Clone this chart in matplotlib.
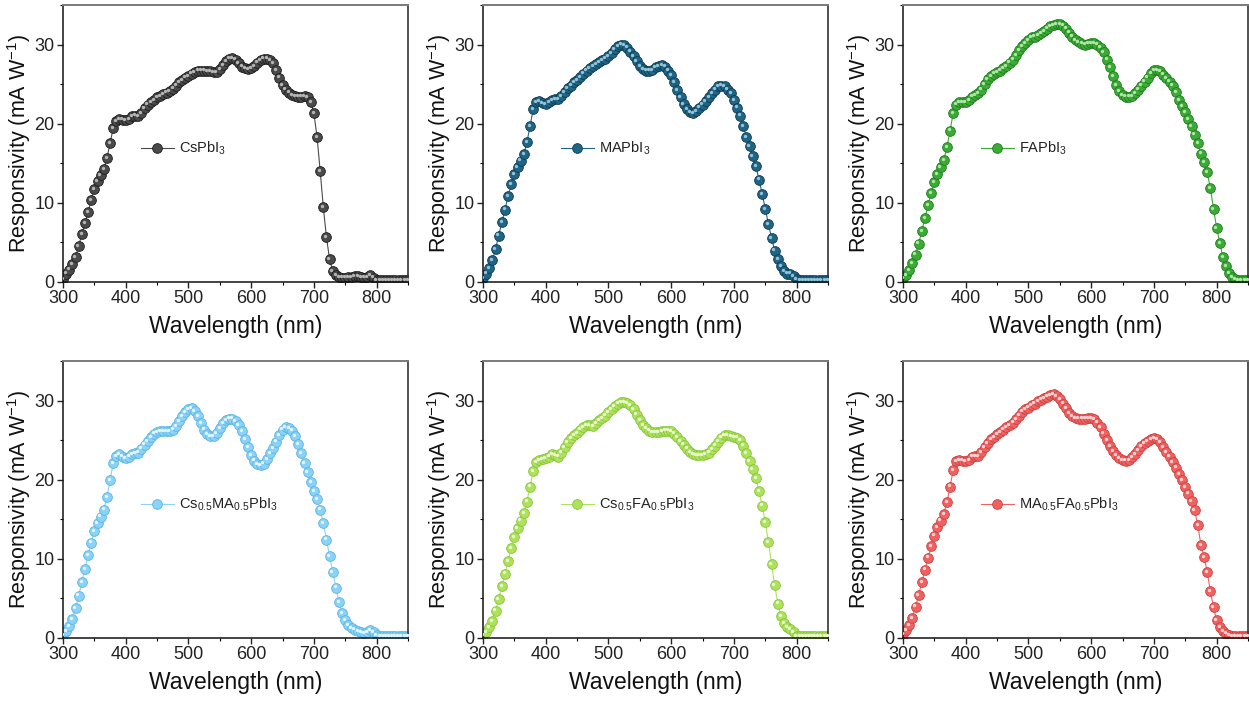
import matplotlib
matplotlib.use("Agg")
import matplotlib.pyplot as plt
import numpy as np
from matplotlib.ticker import MultipleLocator
from matplotlib.transforms import offset_copy

plt.rcParams["font.family"] = ["Liberation Sans", "DejaVu Sans"]
plt.rcParams["mathtext.fontset"] = "custom"
plt.rcParams["mathtext.rm"] = "Liberation Sans"
plt.rcParams["mathtext.default"] = "regular"

# wavelength grid, 5 nm steps from 300 to 850 nm
wavelength = np.arange(300, 851, 5)

cspbi3 = [0.3, 1.0, 1.5, 2.2, 3.1, 4.5, 6.0, 7.4, 8.8, 10.3,
          11.7, 12.7, 13.5, 14.2, 15.6, 17.5, 19.4, 20.3, 20.6, 20.5,
          20.4, 20.6, 20.9, 21.0, 20.9, 21.3, 21.9, 22.4, 22.7, 23.0,
          23.3, 23.5, 23.7, 23.9, 24.1, 24.4, 24.8, 25.2, 25.5, 25.8,
          26.0, 26.3, 26.5, 26.7, 26.7, 26.7, 26.6, 26.6, 26.5, 26.5,
          26.9, 27.4, 27.9, 28.2, 28.3, 28.1, 27.6, 27.2, 27.0, 26.9,
          27.0, 27.3, 27.7, 28.0, 28.2, 28.2, 28.0, 27.6, 26.8, 25.8,
          24.9, 24.3, 23.9, 23.6, 23.5, 23.4, 23.4, 23.5, 23.3, 22.7,
          21.3, 18.3, 14.0, 9.4, 5.6, 2.8, 1.3, 0.8, 0.6, 0.5,
          0.5, 0.6, 0.6, 0.7, 0.7, 0.6, 0.5, 0.6, 0.8, 0.5,
          0.2, 0.2, 0.2, 0.2, 0.2, 0.2, 0.2, 0.2, 0.2, 0.2, 0.2]

mapbi3 = [0.4, 1.0, 1.7, 2.7, 4.1, 5.8, 7.5, 9.1, 10.8, 12.3,
          13.6, 14.5, 15.3, 16.1, 17.6, 19.7, 21.8, 22.7, 22.8, 22.6,
          22.5, 22.7, 23.0, 23.1, 23.1, 23.5, 24.0, 24.5, 24.8, 25.2,
          25.5, 25.9, 26.3, 26.7, 27.0, 27.3, 27.5, 27.8, 28.0, 28.2,
          28.5, 28.9, 29.4, 29.8, 30.0, 29.9, 29.6, 29.1, 28.5, 27.9,
          27.3, 26.9, 26.7, 26.7, 26.8, 27.1, 27.3, 27.4, 27.2, 26.7,
          26.1, 25.2, 24.2, 23.3, 22.5, 21.8, 21.4, 21.3, 21.6, 22.0,
          22.4, 22.8, 23.3, 23.8, 24.3, 24.7, 24.8, 24.7, 24.3, 23.8,
          23.0, 22.0, 21.0, 19.7, 18.3, 17.1, 15.9, 14.6, 12.9, 11.1,
          9.2, 7.3, 5.5, 3.9, 2.8, 1.9, 1.3, 1.0, 1.0, 0.7,
          0.3, 0.2, 0.2, 0.2, 0.2, 0.2, 0.2, 0.2, 0.2, 0.2, 0.2]

fapbi3 = [0.4, 0.8, 1.4, 2.3, 3.4, 4.8, 6.4, 8.0, 9.7, 11.2,
          12.6, 13.6, 14.5, 15.4, 17.0, 19.1, 21.3, 22.4, 22.7, 22.7,
          22.7, 23.0, 23.4, 23.6, 23.8, 24.3, 25.0, 25.6, 26.0, 26.3,
          26.5, 26.7, 27.0, 27.3, 27.7, 28.1, 28.7, 29.3, 29.8, 30.2,
          30.6, 30.9, 31.0, 31.2, 31.4, 31.7, 32.0, 32.3, 32.5, 32.6,
          32.6, 32.4, 32.0, 31.5, 31.0, 30.6, 30.3, 30.1, 30.0, 30.1,
          30.2, 30.2, 30.0, 29.6, 29.0, 28.1, 27.1, 26.0, 24.9, 24.1,
          23.6, 23.4, 23.4, 23.5, 23.8, 24.3, 24.8, 25.3, 25.8, 26.4,
          26.8, 26.8, 26.6, 26.2, 25.7, 25.3, 24.8, 24.0, 23.0, 22.2,
          21.4, 20.6, 19.7, 18.6, 17.5, 16.2, 15.1, 13.8, 11.8, 9.2,
          6.8, 4.9, 3.1, 1.9, 1.1, 0.6, 0.3, 0.2, 0.2, 0.2, 0.2]

cs_ma = [0.3, 0.8, 1.4, 2.3, 3.7, 5.3, 7.0, 8.7, 10.4, 12.0,
         13.5, 14.5, 15.3, 16.2, 17.8, 19.9, 22.1, 23.0, 23.2, 22.9,
         22.7, 22.9, 23.2, 23.3, 23.4, 23.9, 24.4, 24.9, 25.4, 25.8,
         26.0, 26.1, 26.1, 26.1, 26.1, 26.3, 26.8, 27.4, 28.0, 28.5,
         28.9, 29.0, 28.7, 28.0, 27.1, 26.3, 25.7, 25.5, 25.5, 25.9,
         26.5, 27.1, 27.5, 27.7, 27.7, 27.4, 26.9, 26.1, 25.1, 24.1,
         23.1, 22.4, 21.9, 21.8, 22.0, 22.6, 23.3, 24.0, 24.8, 25.6,
         26.3, 26.6, 26.5, 26.2, 25.5, 24.5, 23.3, 22.1, 20.9, 19.7,
         18.5, 17.5, 16.2, 14.5, 12.4, 10.3, 8.3, 6.3, 4.5, 3.1,
         2.2, 1.6, 1.2, 1.0, 0.8, 0.7, 0.6, 0.7, 0.9, 0.7,
         0.3, 0.2, 0.2, 0.2, 0.2, 0.2, 0.2, 0.2, 0.2, 0.2, 0.2]

cs_fa = [0.3, 0.7, 1.3, 2.1, 3.4, 4.9, 6.5, 8.1, 9.7, 11.3,
         12.7, 13.8, 14.8, 15.7, 17.2, 19.1, 21.1, 22.2, 22.5, 22.6,
         22.7, 22.9, 23.2, 23.1, 22.9, 23.4, 24.1, 24.7, 25.2, 25.6,
         25.9, 26.3, 26.6, 26.9, 26.9, 26.8, 27.1, 27.5, 27.8, 28.1,
         28.5, 28.9, 29.3, 29.6, 29.8, 29.8, 29.7, 29.4, 28.9, 28.2,
         27.5, 26.9, 26.5, 26.2, 26.0, 26.0, 26.0, 26.1, 26.2, 26.2,
         26.1, 25.8, 25.4, 24.9, 24.4, 23.9, 23.5, 23.2, 23.1, 23.1,
         23.1, 23.2, 23.4, 23.8, 24.3, 24.8, 25.3, 25.6, 25.6, 25.5,
         25.4, 25.3, 25.0, 24.3, 23.3, 22.3, 21.3, 20.2, 18.5, 16.7,
         14.6, 12.1, 9.3, 6.6, 4.3, 2.7, 1.8, 1.3, 1.1, 0.7,
         0.2, 0.2, 0.2, 0.2, 0.2, 0.2, 0.2, 0.2, 0.2, 0.2, 0.2]

ma_fa = [0.4, 0.9, 1.6, 2.5, 3.9, 5.4, 7.0, 8.6, 10.1, 11.6,
         12.9, 14.0, 14.8, 15.6, 17.1, 19.1, 21.2, 22.3, 22.5, 22.4,
         22.3, 22.5, 22.9, 23.0, 23.0, 23.5, 24.1, 24.6, 25.1, 25.4,
         25.7, 26.0, 26.3, 26.6, 26.9, 27.2, 27.6, 28.1, 28.6, 28.9,
         29.1, 29.4, 29.6, 29.9, 30.1, 30.3, 30.5, 30.7, 30.8, 30.6,
         30.2, 29.6, 29.0, 28.4, 28.0, 27.8, 27.7, 27.7, 27.7, 27.8,
         27.8, 27.6, 27.2, 26.6, 25.8, 25.0, 24.2, 23.6, 23.1, 22.7,
         22.5, 22.4, 22.5, 22.8, 23.2, 23.7, 24.2, 24.6, 24.9, 25.1,
         25.2, 25.1, 24.7, 24.1, 23.5, 22.9, 22.2, 21.5, 20.7, 19.9,
         19.0, 18.2, 17.3, 16.1, 14.2, 11.7, 10.2, 8.3, 5.9, 3.8,
         2.2, 1.3, 0.8, 0.5, 0.3, 0.2, 0.2, 0.2, 0.2, 0.2, 0.2]

labels = ["CsPbI$_3$", "MAPbI$_3$", "FAPbI$_3$",
          "Cs$_{0.5}$MA$_{0.5}$PbI$_3$", "Cs$_{0.5}$FA$_{0.5}$PbI$_3$",
          "MA$_{0.5}$FA$_{0.5}$PbI$_3$"]
series = [cspbi3, mapbi3, fapbi3, cs_ma, cs_fa, ma_fa]

# (ball colour, edge colour, highlight colour)
palette = [("#4a4a4a", "#1c1c1c", "#b5b5b5"),
           ("#1f6586", "#0d3a4f", "#93c3d8"),
           ("#3bab35", "#1f7a1e", "#b0e6a6"),
           ("#8ad2f7", "#5ab3e3", "#e3f5ff"),
           ("#aee25c", "#86c43a", "#ebfbd0"),
           ("#f06262", "#cc3f3f", "#fdd3d3")]

fig = plt.figure(figsize=(12.49, 7.02), dpi=100)
W, H = 1249.0, 702.0
lefts = [63, 483, 903]
tops = [5, 361]
aw, ah = 345, 276.5

for i in range(6):
    row, col = divmod(i, 3)
    ax = fig.add_axes([lefts[col] / W, 1 - (tops[row] + ah) / H, aw / W, ah / H])
    base, edge, hi = palette[i]
    ax.plot(wavelength, series[i], "-", color=base, lw=0.8, marker="o", ms=7,
            mfc=base, mec=edge, mew=0.6, label=labels[i], zorder=2)
    hl = offset_copy(ax.transData, fig=fig, x=-0.9, y=0.9, units="points")
    ax.plot(wavelength, series[i], "o", ms=2.4, mfc=hi, mec="none",
            transform=hl, zorder=3)

    ax.set_xlim(300, 850)
    ax.set_ylim(0, 35)
    ax.xaxis.set_major_locator(MultipleLocator(100))
    ax.xaxis.set_minor_locator(MultipleLocator(50))
    ax.yaxis.set_major_locator(MultipleLocator(10))
    ax.yaxis.set_minor_locator(MultipleLocator(5))
    ax.tick_params(which="major", direction="out", length=4, width=1,
                   labelsize=13, colors="#222222", pad=2)
    ax.tick_params(which="minor", direction="out", length=2.5, width=0.8)
    ax.tick_params(top=False, right=False)
    for s in ["left", "bottom"]:
        ax.spines[s].set_color("#111111")
        ax.spines[s].set_linewidth(1.1)
    ax.spines["top"].set_color("#7a7a7a")
    ax.spines["top"].set_linewidth(1.4)
    ax.spines["right"].set_color("#333333")
    ax.spines["right"].set_linewidth(1.2)

    ax.set_xlabel("Wavelength (nm)", fontsize=16.5, color="#111111", labelpad=6)
    ax.set_ylabel("Responsivity (mA W$^{-1}$)", fontsize=15.5, color="#111111",
                  labelpad=1)

    leg = ax.legend(loc="center left", bbox_to_anchor=(0.225, 0.48),
                    frameon=False, fontsize=10.5, handlelength=2.3,
                    handletextpad=0.3, borderpad=0, borderaxespad=0)
    for t in leg.get_texts():
        t.set_color("#222222")

fig.savefig("out.png", dpi=100)
